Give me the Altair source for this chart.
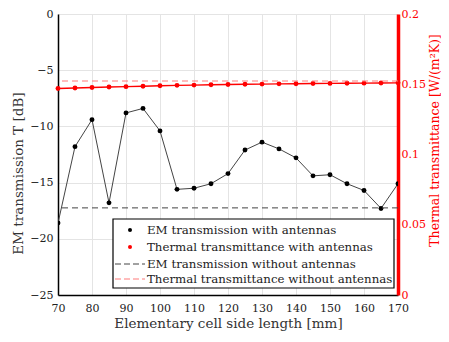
import altair as alt
import pandas as pd

cell = [70, 75, 80, 85, 90, 95, 100, 105, 110, 115, 120, 125, 130, 135, 140, 145, 150, 155, 160, 165, 170]
em_with = [-18.6, -11.8, -9.4, -16.8, -8.8, -8.4, -10.4, -15.6, -15.5, -15.1, -14.2, -12.1, -11.4, -12.0, -12.8,
           -14.4, -14.3, -15.1, -15.7, -17.3, -15.1]
th_with = [0.1470, 0.1473, 0.1477, 0.1480, 0.1483, 0.1486, 0.1489, 0.1492, 0.1494, 0.1496, 0.1498, 0.1500, 0.1501,
           0.1503, 0.1504, 0.1505, 0.1506, 0.1507, 0.1508, 0.1509, 0.1510]
em_without = [-17.25]
th_without = [0.1523]
legend_labels = ["EM transmission with antennas", "Thermal transmittance with antennas",
                 "EM transmission without antennas", "Thermal transmittance without antennas"]

df = pd.DataFrame({"cell": cell, "em": em_with, "th": th_with})
df_em0 = pd.DataFrame({"em0": em_without})
df_th0 = pd.DataFrame({"th0": th_without})

FONT = "DejaVu Serif, Liberation Serif, serif"
RED = "#ff0000"
LS = 11
TS = 13.5

W, H = 340, 281

xscale = alt.Scale(domain=[70, 170], nice=False)
xaxis = alt.Axis(values=list(range(70, 171, 10)), title="Elementary cell side length [mm]",
                 grid=True, gridColor="#e4e4e4", ticks=False, labelPadding=7, labelOverlap=False,
                 labelFlush=False, labelBound=False,
                 domainColor="black", domainWidth=1.5, labelFont=FONT, labelFontSize=LS,
                 labelColor="#222", titleFont=FONT, titleFontSize=TS, titleFontWeight="normal",
                 titleColor="#333", titlePadding=3)
xenc = alt.X("cell:Q", scale=xscale, axis=xaxis)
yem = alt.Y("em:Q", scale=alt.Scale(domain=[-25, 0], nice=False),
            axis=alt.Axis(values=[-25, -20, -15, -10, -5, 0], title="EM transmission T [dB]", orient="left",
                          grid=True, gridColor="#e4e4e4", ticks=False, labelPadding=5, labelOverlap=False,
                          labelFlush=False, labelBound=False,
                          domainColor="black", domainWidth=1.5, labelFont=FONT, labelFontSize=LS,
                          labelColor="#222", titleFont=FONT, titleFontSize=TS, titleFontWeight="normal",
                          titleColor="#333", titleX=-40, titleY=159, titleAngle=270,
                          titleAlign="center", titleBaseline="middle"))

em_line = alt.Chart(df).mark_line(color="#444", strokeWidth=1, clip=True).encode(x=xenc, y=yem)
em_pts = alt.Chart(df).mark_circle(color="black", size=24, opacity=1, clip=True).encode(x=xenc, y="em:Q")
em_rule = alt.Chart(df_em0).mark_rule(color="#444", strokeWidth=1, strokeDash=[6, 4]).encode(
    y=alt.Y("em0:Q", scale=alt.Scale(domain=[-25, 0], nice=False)))
left = alt.layer(em_line, em_pts, em_rule)

yth_scale = alt.Scale(domain=[0, 0.2], nice=False)
yth = alt.Y("th:Q", scale=yth_scale,
            axis=alt.Axis(values=[0, 0.05, 0.1, 0.15, 0.2], format="~g", orient="right",
                          title="Thermal transmittance [W/(m²K)]", titleAngle=270, grid=False,
                          ticks=False, labelPadding=3, labelOverlap=False, labelFlush=False, labelBound=False,
                          domainColor=RED, domainWidth=3.5,
                          labelColor=RED, titleColor=RED, labelFont=FONT, labelFontSize=LS,
                          titleFont=FONT, titleFontSize=12.5, titleFontWeight="normal",
                          titleX=36, titleY=126, titleAlign="center", titleBaseline="middle"))
th_line = alt.Chart(df).mark_line(color=RED, strokeWidth=1.4).encode(x=xenc, y=yth)
th_pts = alt.Chart(df).mark_circle(color=RED, size=24, opacity=1).encode(x=xenc, y="th:Q")
th_rule = alt.Chart(df_th0).mark_rule(color="#ff7a7a", strokeWidth=1.2, strokeDash=[6, 4]).encode(
    y=alt.Y("th0:Q", scale=yth_scale))
right = alt.layer(th_line, th_pts, th_rule)

# legend (drawn in panel pixel space)
lx0, lx1, ly0, ly1 = 55, 336, 205, 274
rows = [216, 233, 250, 265]
leg = [alt.Chart(df_em0).mark_rect(fill="white", stroke="black", strokeWidth=1.2).encode(
    x=alt.value(lx0), x2=alt.value(lx1), y=alt.value(ly0), y2=alt.value(ly1))]
leg.append(alt.Chart(df_em0).mark_point(filled=True, shape="circle", color="black", size=16, opacity=1).encode(
    x=alt.value(72), y=alt.value(rows[0])))
leg.append(alt.Chart(df_em0).mark_point(filled=True, shape="circle", color=RED, size=16, opacity=1).encode(
    x=alt.value(72), y=alt.value(rows[1])))
leg.append(alt.Chart(df_em0).mark_rule(color="#444", strokeWidth=1, strokeDash=[6, 3]).encode(
    x=alt.value(57), x2=alt.value(87), y=alt.value(rows[2])))
leg.append(alt.Chart(df_em0).mark_rule(color="#ff7a7a", strokeWidth=1.2, strokeDash=[6, 3]).encode(
    x=alt.value(57), x2=alt.value(87), y=alt.value(rows[3])))
for lab, r in zip(legend_labels, rows):
    leg.append(alt.Chart(df_em0).mark_text(text=lab, align="left", baseline="middle", font=FONT,
                                           fontSize=11.8, color="#222").encode(
        x=alt.value(89), y=alt.value(r)))

chart = alt.layer(left, right, *leg).resolve_scale(y="independent").properties(
    width=W, height=H, autosize=alt.AutoSizeParams(type="none"),
    padding={"left": 50, "top": 6, "right": 43, "bottom": 45}
).configure_view(stroke=None)

chart.save("out.html", embed_options={"renderer": "svg", "actions": False})
